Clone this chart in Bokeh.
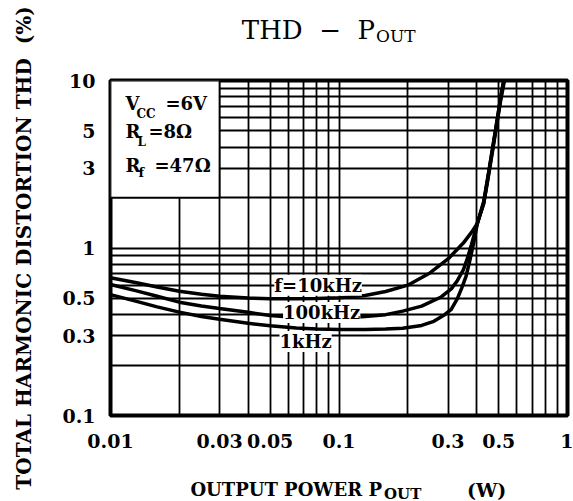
from bokeh.plotting import figure
from bokeh.models import Range1d, FixedTicker, CustomJSTickFormatter, Label
from bokeh.embed import file_html
from bokeh.resources import INLINE

# ---- data ----
x_ticks = [0.01, 0.03, 0.05, 0.1, 0.3, 0.5, 1]
y_ticks = [0.1, 0.3, 0.5, 1, 3, 5, 10]
grid_x = [0.01, 0.02, 0.03, 0.04, 0.05, 0.06, 0.07, 0.08, 0.09,
          0.1, 0.2, 0.3, 0.4, 0.5, 0.6, 0.7, 0.8, 0.9, 1]
grid_y = [0.1, 0.2, 0.3, 0.4, 0.5, 0.6, 0.7, 0.8, 0.9,
          1, 2, 3, 4, 5, 6, 7, 8, 9, 10]

p_10k = [0.01, 0.013, 0.016, 0.02, 0.025, 0.03, 0.04, 0.05, 0.065, 0.08, 0.1, 0.13, 0.16,
         0.2, 0.25, 0.3, 0.35, 0.38, 0.403, 0.43, 0.45, 0.47, 0.49, 0.51, 0.525]
thd_10k = [0.665, 0.62, 0.585, 0.552, 0.53, 0.515, 0.503, 0.498, 0.497, 0.499, 0.505, 0.52, 0.55,
           0.6, 0.71, 0.86, 1.07, 1.24, 1.4, 1.85, 2.7, 3.9, 5.6, 7.9, 10]

p_100k = [0.01, 0.013, 0.016, 0.02, 0.025, 0.03, 0.04, 0.05, 0.065, 0.08, 0.1, 0.13, 0.16, 0.19,
          0.23, 0.28, 0.31, 0.33, 0.35, 0.365, 0.38, 0.403, 0.43, 0.45, 0.47, 0.49, 0.51, 0.527]
thd_100k = [0.605, 0.555, 0.515, 0.475, 0.45, 0.435, 0.413, 0.395, 0.385, 0.38, 0.38, 0.39, 0.40, 0.42,
            0.45, 0.51, 0.57, 0.64, 0.74, 0.87, 1.05, 1.4, 1.9, 2.75, 3.95, 5.6, 7.9, 10]

p_1k = [0.01, 0.013, 0.016, 0.02, 0.025, 0.03, 0.04, 0.05, 0.065, 0.08, 0.1, 0.13, 0.16, 0.19,
        0.23, 0.26, 0.29, 0.31, 0.33, 0.345, 0.36, 0.375, 0.39, 0.403, 0.43, 0.45, 0.47, 0.49, 0.51, 0.53]
thd_1k = [0.527, 0.48, 0.445, 0.414, 0.39, 0.375, 0.355, 0.343, 0.333, 0.328, 0.326, 0.326, 0.328, 0.332,
          0.345, 0.365, 0.40, 0.43, 0.50, 0.58, 0.68, 0.86, 1.1, 1.4, 1.85, 2.65, 3.8, 5.4, 7.6, 10]

box_x = [0.01, 0.03]
box_y = [2, 10]

FONT = "DejaVu Serif"
NB = "\u00a0"

p = figure(width=573, height=501, x_axis_type="log", y_axis_type="log",
           x_range=Range1d(0.01, 1), y_range=Range1d(0.1, 10),
           output_backend="svg", toolbar_location=None,
           min_border_left=110, min_border_right=6, min_border_top=80, min_border_bottom=86)

p.background_fill_color = "white"
p.border_fill_color = "white"
p.outline_line_color = "black"
p.outline_line_width = 4
p.outline_line_alpha = 1

fmt = "return tick.toString();"
for ax, ticks in ((p.xaxis, x_ticks), (p.yaxis, y_ticks)):
    ax.ticker = FixedTicker(ticks=ticks)
    ax.formatter = CustomJSTickFormatter(code=fmt)
    ax.major_tick_line_color = None
    ax.minor_tick_line_color = None
    ax.axis_line_color = None
    ax.major_tick_out = 0
    ax.major_tick_in = 0
    ax.major_label_text_font = FONT
    ax.major_label_text_font_style = "bold"
    ax.major_label_text_font_size = "19px"
    ax.major_label_text_color = "black"
p.xaxis.major_label_standoff = 18
p.yaxis.major_label_standoff = 15

p.yaxis.axis_label = "TOTAL HARMONIC DISTORTION THD" + NB + NB + "(%)"
p.yaxis.axis_label_text_font = FONT
p.yaxis.axis_label_text_font_style = "bold"
p.yaxis.axis_label_text_font_size = "20px"
p.yaxis.axis_label_text_color = "black"
p.yaxis.axis_label_standoff = 23

p.xgrid.ticker = FixedTicker(ticks=grid_x)
p.ygrid.ticker = FixedTicker(ticks=grid_y)
for g in (p.xgrid, p.ygrid):
    g.grid_line_color = "black"
    g.grid_line_width = 1.8
    g.grid_line_alpha = 1

# white box for the conditions text
p.quad(left=[box_x[0]], right=[box_x[1]], bottom=[box_y[0]], top=[box_y[1]],
       fill_color="white", line_color="black", line_width=1.8)

for xs, ys in ((p_10k, thd_10k), (p_100k, thd_100k), (p_1k, thd_1k)):
    p.line(xs, ys, line_color="black", line_width=3.5)


def mk(x, y, text, xo=0, yo=0, size="18px", align="left", style="bold", bg=None):
    return Label(x=x, y=y, x_offset=xo, y_offset=yo, text=text,
                 text_font=FONT, text_font_style=style, text_font_size=size,
                 text_align=align, text_baseline="middle", text_color="black",
                 background_fill_color=bg)


# curve labels (inside the frame)
p.add_layout(mk(0.081, 0.6, "f=10kHz", align="center", bg="white"))
p.add_layout(mk(0.084, 0.412, "100kHz", align="center", bg="white"))
p.add_layout(mk(0.0714, 0.277, "1kHz", align="center", bg="white"))

# conditions box text
p.add_layout(mk(0.01, 10, "V", xo=15, yo=-23))
p.add_layout(mk(0.01, 10, "CC", xo=26, yo=-33, size="12px"))
p.add_layout(mk(0.01, 10, "=6V", xo=55, yo=-23))
p.add_layout(mk(0.01, 10, "R", xo=15, yo=-51))
p.add_layout(mk(0.01, 10, "L", xo=27, yo=-61, size="12px"))
p.add_layout(mk(0.01, 10, "=8\u03a9", xo=38, yo=-51))
p.add_layout(mk(0.01, 10, "R", xo=15, yo=-85))
p.add_layout(mk(0.01, 10, "f", xo=28, yo=-92, size="13px"))
p.add_layout(mk(0.01, 10, "=47\u03a9", xo=44, yo=-85))

# title (side panel, so not clipped to the frame)
p.add_layout(mk(0.1, 10, "THD" + NB * 2 + "\u2212" + NB * 2 + "P", xo=36, yo=51,
                size="26px", style="normal", align="right"), "above")
p.add_layout(mk(0.1, 10, "OUT", xo=37, yo=45, size="17px", style="normal"), "above")

# x-axis label pieces
p.add_layout(mk(0.1, 0.1, "OUTPUT POWER P", xo=43, yo=-74, align="right"), "below")
p.add_layout(mk(0.1, 0.1, "OUT", xo=45, yo=-78, size="15px"), "below")
p.add_layout(mk(0.1, 0.1, "(W)", xo=128, yo=-74, size="19px"), "above")

open("out.html", "w").write(file_html(p, INLINE))
